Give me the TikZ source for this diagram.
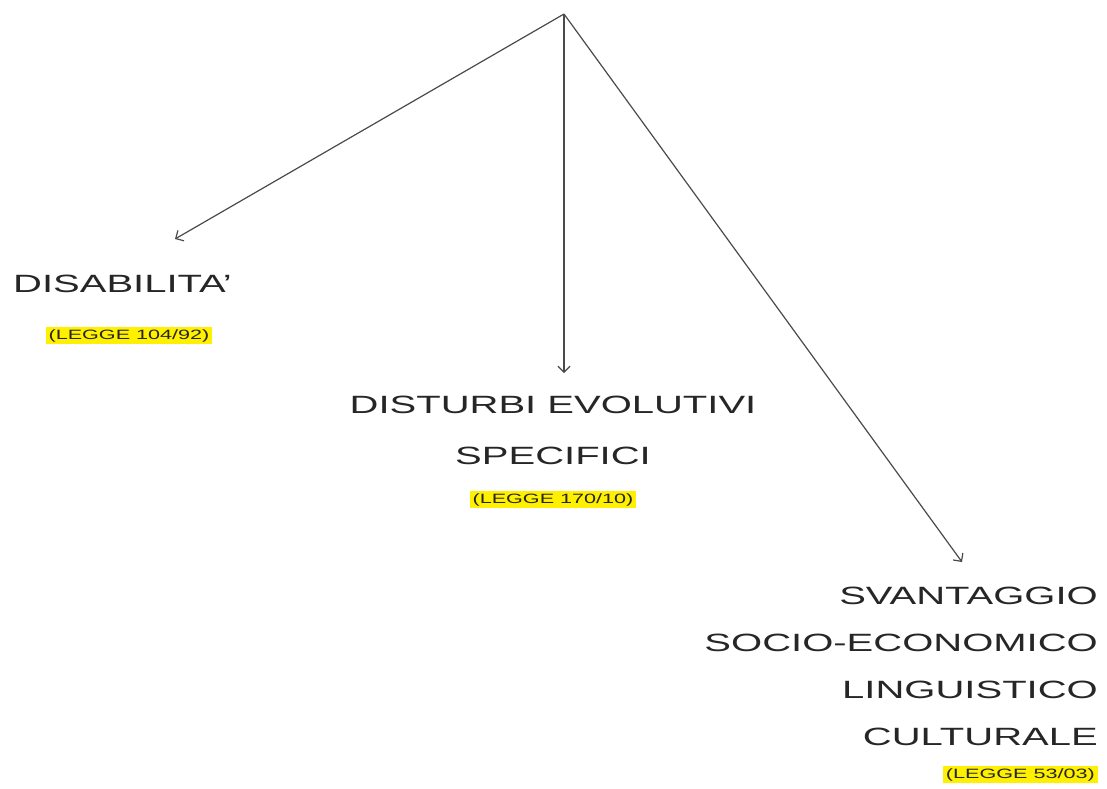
\documentclass[tikz,border=0pt]{standalone}
\usepackage{fontspec}
\usepackage{xcolor}
\usetikzlibrary{positioning,arrows.meta}
\newfontfamily\slidefont[FakeStretch=1.6]{Liberation Sans}
\definecolor{inkcolor}{HTML}{262626}
\definecolor{linecolor}{HTML}{4A4A4A}
\definecolor{markcolor}{HTML}{FFF000}
\tikzstyle{bigtext} = [
    text=inkcolor,
    font=\slidefont\fontsize{25}{47}\selectfont,
    inner sep=0pt
    ]
\tikzstyle{lawtag} = [
    fill=markcolor,
    text=inkcolor,
    font=\slidefont\fontsize{13.5}{16}\selectfont,
    inner xsep=3pt,
    inner ysep=2pt
    ]
\tikzstyle{branch} = [
    draw=linecolor,
    line width=1.2pt,
    -{Straight Barb[length=6pt,width=12pt]}
    ]

\begin{document}
\begin{tikzpicture}[x=1pt,y=1pt]
\useasboundingbox (0,0) rectangle (1107,-788);
\coordinate (root) at (564,-14);
\coordinate (tipdis) at (175,-239);
\coordinate (tipdsa) at (564,-373);
\coordinate (tipsva) at (962,-562);

\node[bigtext, anchor=north west] (disab) at (13,-275) {DISABILITA’};
\node[lawtag] (lawdis) at (129,-335.5) {(LEGGE 104/92)};

\node[bigtext, align=center, anchor=north,
      font=\slidefont\fontsize{25}{51}\selectfont] (dsa) at (553,-396) {DISTURBI EVOLUTIVI\\SPECIFICI};
\node[lawtag, below=26pt of dsa] (lawdsa) {(LEGGE 170/10)};

\node[bigtext, align=right, anchor=north east] (svant) at (1098,-587) {SVANTAGGIO\\SOCIO-ECONOMICO\\LINGUISTICO\\CULTURALE};
\node[lawtag, below=20pt of svant.south east, anchor=north east] (lawsva) {(LEGGE 53/03)};

\draw[branch] (root) -- (tipdis);
\draw[branch] (root) -- (tipdsa);
\draw[branch] (root) -- (tipsva);
\end{tikzpicture}
\end{document}
